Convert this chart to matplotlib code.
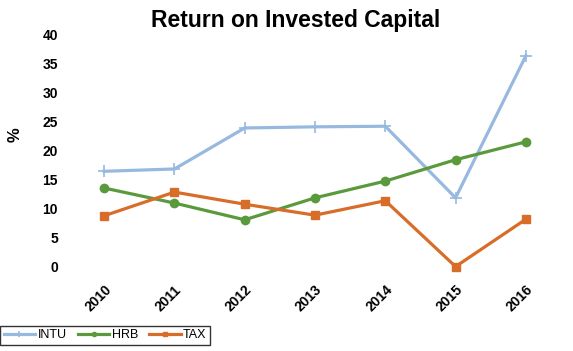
import matplotlib.pyplot as plt
import numpy as np

plt.rcParams["font.family"] = ["Liberation Sans", "DejaVu Sans"]

years = ["2010", "2011", "2012", "2013", "2014", "2015", "2016"]
intu = [16.4, 16.8, 23.9, 24.1, 24.2, 11.8, 36.4]
hrb = [13.5, 10.9, 8.0, 11.8, 14.7, 18.4, 21.5]
tax = [8.7, 12.8, 10.7, 8.8, 11.3, -0.1, 8.1]
yticks = [0, 5, 10, 15, 20, 25, 30, 35, 40]

fig = plt.figure(figsize=(5.73, 3.51), dpi=100)
ax = fig.add_axes([69 / 573, 1 - 266 / 351, (561 - 69) / 573, (266 - 35) / 351])

x = np.arange(len(years))
ax.plot(x, intu, color="#97B9E0", lw=2.3, marker="+", ms=8, mew=1.2, label="INTU")
ax.plot(x, hrb, color="#5B9A3C", lw=2.3, marker="o", ms=6, label="HRB")
ax.plot(x, tax, color="#D86D29", lw=2.3, marker="s", ms=6, label="TAX")

ax.set_xlim(-0.5, len(years) - 0.5)
ax.set_ylim(0, 40)
ax.set_yticks(yticks)
ax.set_yticklabels([str(v) for v in yticks], fontsize=10, fontweight="bold")
ax.set_xticks(x)
ax.set_xticklabels(years, fontsize=10, fontweight="bold", rotation=45,
                   ha="right", va="top", rotation_mode="anchor")
ax.tick_params(length=0, pad=8)
ax.tick_params(axis="x", pad=12)
for s in ax.spines.values():
    s.set_visible(False)
for ln in ax.lines:
    ln.set_clip_on(False)

fig.text(15 / 573, 1 - 135 / 351, "%", rotation=90, ha="center", va="center",
         fontsize=12, fontweight="bold")
fig.text(296 / 573, 1 - 20 / 351, "Return on Invested Capital", ha="center", va="center",
         fontsize=16.5, fontweight="bold")

leg = fig.legend(loc="lower left", bbox_to_anchor=(0.0, 6 / 351), ncol=3, fontsize=9,
                 frameon=True, fancybox=False, edgecolor="black", handlelength=2.5,
                 columnspacing=0.9, handletextpad=0.2, borderpad=0.3,
                 borderaxespad=0, markerscale=0.5)
leg.get_frame().set_linewidth(1.0)

fig.savefig("out.png", dpi=100)
